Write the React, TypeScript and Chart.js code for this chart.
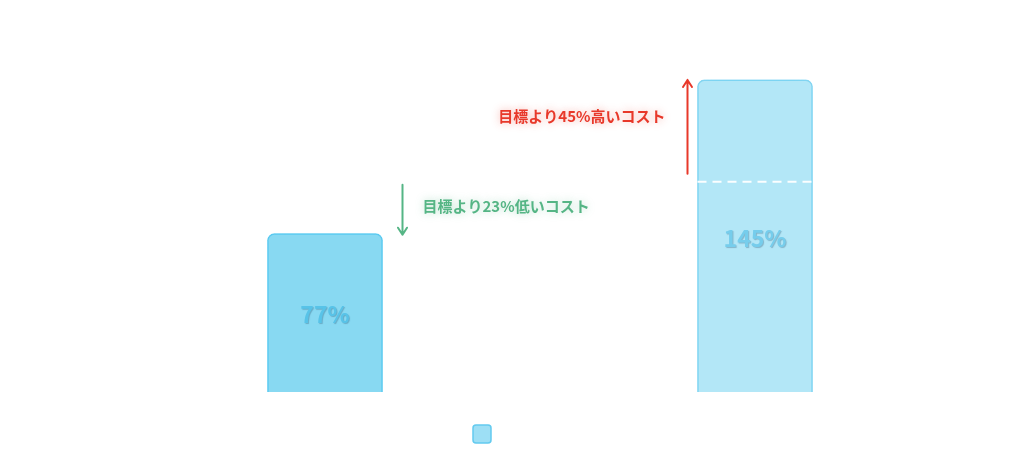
import React, { useEffect, useRef } from "react";
import { Chart, registerables, ChartConfiguration, Plugin } from "chart.js";

Chart.register(...registerables);

// data
const categories = ["コストA", "コストB"];
const costPercent = [77, 145];
const targetPercent = 100;
const valueLabels = ["77%", "145%"];
const noteLabels = ["目標より23%低いコスト", "目標より45%高いコスト"];

const FONT = "'Noto Sans CJK JP', 'Noto Sans', sans-serif";

const barFill = ["#88d9f2", "#b3e7f7"];
const barBorder = ["#5ec9ef", "#8fd7f1"];
const labelColor = ["#58c3e8", "#76cdec"];

function drawArrow(ctx: CanvasRenderingContext2D, x: number, y0: number, y1: number, color: string) {
  const dir = y1 > y0 ? 1 : -1;
  ctx.save();
  ctx.strokeStyle = color;
  ctx.lineWidth = 2;
  ctx.lineCap = "round";
  ctx.lineJoin = "round";
  ctx.beginPath();
  ctx.moveTo(x, y0);
  ctx.lineTo(x, y1);
  ctx.moveTo(x - 4.5, y1 - dir * 7);
  ctx.lineTo(x, y1);
  ctx.lineTo(x + 4.5, y1 - dir * 7);
  ctx.stroke();
  ctx.restore();
}

// soft glow behind the bars
const barGlow: Plugin<"bar"> = {
  id: "barGlow",
  beforeDatasetDraw(chart) {
    const ctx = chart.ctx;
    ctx.save();
    ctx.shadowColor = "rgba(80, 205, 245, 0.6)";
    ctx.shadowBlur = 14;
  },
  afterDatasetDraw(chart) {
    chart.ctx.restore();
  },
};

// value labels, target line and the above/below notes
const costNotes: Plugin<"bar"> = {
  id: "costNotes",
  afterDatasetsDraw(chart) {
    const ctx = chart.ctx;
    const yScale = chart.scales.y;
    const yTarget = yScale.getPixelForValue(targetPercent);
    const bars = chart.getDatasetMeta(0).data;

    bars.forEach((bar: any, i) => {
      const { x, y, base, width } = bar.getProps(["x", "y", "base", "width"], true);
      const v = costPercent[i];

      // value in the middle of the bar
      ctx.save();
      ctx.font = `bold 23px ${FONT}`;
      ctx.textAlign = "center";
      ctx.textBaseline = "middle";
      ctx.shadowColor = "rgba(40, 90, 120, 0.35)";
      ctx.shadowOffsetX = 1;
      ctx.shadowOffsetY = 1;
      ctx.shadowBlur = 1;
      ctx.fillStyle = labelColor[i];
      ctx.fillText(valueLabels[i], x, (y + base) / 2 - 6);
      ctx.restore();

      if (v > targetPercent) {
        // dashed target line across the bar
        ctx.save();
        ctx.strokeStyle = "rgba(255, 255, 255, 0.95)";
        ctx.lineWidth = 2;
        ctx.setLineDash([9, 6]);
        ctx.beginPath();
        ctx.moveTo(x - width / 2, yTarget);
        ctx.lineTo(x + width / 2, yTarget);
        ctx.stroke();
        ctx.restore();

        const ax = x - width / 2 - 10;
        drawArrow(ctx, ax, yTarget - 8, y, "#e8382a");
        ctx.save();
        ctx.font = `bold 15px ${FONT}`;
        ctx.textAlign = "right";
        ctx.textBaseline = "middle";
        ctx.shadowColor = "rgba(235, 60, 45, 0.4)";
        ctx.shadowBlur = 8;
        ctx.fillStyle = "#e8382a";
        const ty = yScale.getPixelForValue(targetPercent + (v - targetPercent) * 0.64);
        ctx.fillText(noteLabels[i], ax - 22, ty);
        ctx.restore();
      } else {
        const ax = x + width / 2 + 20;
        drawArrow(ctx, ax, yTarget + 3, y + 1, "#55b585");
        ctx.save();
        ctx.font = `bold 15px ${FONT}`;
        ctx.textAlign = "left";
        ctx.textBaseline = "middle";
        ctx.shadowColor = "rgba(85, 181, 133, 0.4)";
        ctx.shadowBlur = 8;
        ctx.fillStyle = "#55b585";
        ctx.fillText(noteLabels[i], ax + 20, (yTarget + y) / 2 - 1);
        ctx.restore();
      }
    });
  },
};

function CostChart(): JSX.Element {
  const chartRef = useRef<HTMLCanvasElement | null>(null);
  const chartInstance = useRef<Chart | null>(null);

  useEffect(() => {
    if (chartRef.current) {
      const ctx = chartRef.current.getContext("2d");

      if (ctx) {
        if (chartInstance.current) {
          chartInstance.current.destroy();
        }

        const config: ChartConfiguration<"bar"> = {
          type: "bar",
          data: {
            labels: categories,
            datasets: [
              {
                label: "",
                data: costPercent,
                backgroundColor: barFill,
                borderColor: barBorder,
                borderWidth: 1.5,
                borderRadius: { topLeft: 7, topRight: 7, bottomLeft: 0, bottomRight: 0 },
                borderSkipped: false,
                barThickness: 115,
              },
            ],
          },
          options: {
            animation: false,
            responsive: true,
            maintainAspectRatio: false,
            layout: { padding: { top: 46, right: 54, left: 0, bottom: 0 } },
            plugins: {
              tooltip: { enabled: false },
              legend: {
                position: "bottom",
                labels: {
                  boxWidth: 18,
                  boxHeight: 18,
                  padding: 10,
                  useBorderRadius: true,
                  borderRadius: 3,
                  generateLabels: () => [
                    {
                      text: "",
                      fillStyle: "#9ddff5",
                      strokeStyle: "#63caef",
                      lineWidth: 1.5,
                      borderRadius: 3,
                      datasetIndex: 0,
                      hidden: false,
                    },
                  ],
                },
              },
            },
            scales: {
              x: {
                grid: { display: false },
                border: { display: false },
                ticks: { display: false },
                afterFit: (scale) => {
                  scale.height = 23;
                },
              },
              y: {
                min: 7,
                max: 160,
                grid: { display: false },
                border: { display: false },
                ticks: { display: false },
                afterFit: (scale) => {
                  scale.width = 110;
                },
              },
            },
          },
          plugins: [barGlow, costNotes],
        };

        chartInstance.current = new Chart(ctx, config);
      }
    }

    return () => {
      if (chartInstance.current) {
        chartInstance.current.destroy();
        chartInstance.current = null;
      }
    };
  }, []);

  return (
    <div style={{ position: "fixed", left: 0, top: 0, width: 1024, height: 450, overflow: "hidden", background: "#fff" }}>
      <div style={{ position: "relative", width: 1024, height: 453 }}>
        <canvas ref={chartRef} />
      </div>
    </div>
  );
}

export default function App(): JSX.Element {
  return <CostChart />;
}
